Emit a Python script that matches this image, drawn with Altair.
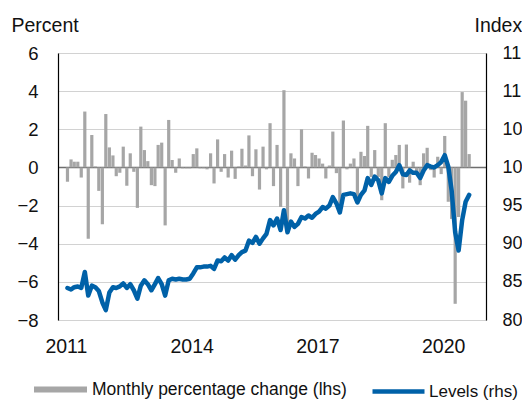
import altair as alt
import pandas as pd

# Monthly percentage change (lhs), Jan 2011 .. Aug 2020
monthly_change = [
    -0.75, 0.42, 0.30, 0.30, -0.53, 2.93, -3.74, 1.70, 0.05, -1.23, -2.98, 2.80,
    1.05, 0.63, -0.46, -0.28, 1.09, -0.96, 0.74, -0.23, -2.12, 2.14, 0.91, 0.33,
    -0.93, -0.98, 1.18, 1.30, -3.04, 2.49, 0.39, -0.28, 0.47, -0.05, -0.05, -0.05,
    0.70, 1.00, -0.05, -0.05, -0.10, 0.74, -0.84, 1.47, -0.23, 0.70, -0.53, 0.88,
    -0.60, 0.05, 0.98, 0.10, 1.68, -0.46, 0.95, -1.16, 1.09, -0.10, 2.32, -0.98,
    1.18, -2.07, 4.05, -3.30, 0.74, 0.47, -0.98, 2.00, 0.05, -0.58, 0.77, 0.65,
    0.47, 0.20, -0.58, 0.10, 1.88, -0.30, -2.07, 2.46, -0.10, 0.20, 0.47, -1.70,
    0.82, 0.60, 2.18, -0.50, 0.91, -0.50, -1.72, 2.32, -0.50, 0.40, 0.65, 1.18,
    -1.10, 1.20, -0.80, 0.30, -0.20, -0.93, 0.74, 1.03, -0.14, -0.53, 0.56, -0.35,
    1.65, -1.80, -2.70, -7.15, -2.60, 3.95, 3.50, 0.70,
]

# Levels (rhs), index
levels = [
    84.2, 84.0, 84.3, 84.4, 84.2, 86.3, 83.2, 84.5, 84.3, 83.8, 82.3, 81.3,
    83.6, 84.3, 84.2, 84.4, 84.8, 84.2, 84.7, 83.9, 82.8, 84.5, 85.2, 84.7,
    83.9, 84.7, 85.5, 84.7, 83.2, 85.2, 85.4, 85.3, 85.4, 85.3, 85.3, 85.4,
    86.1, 86.9, 86.9, 87.0, 87.0, 87.1, 86.7, 87.8, 87.7, 88.2, 87.8, 88.5,
    87.9, 88.5, 88.9, 89.1, 90.4, 90.1, 90.9, 90.0, 90.7, 91.3, 93.1, 92.4,
    93.3, 91.8, 94.4, 91.5, 92.9, 92.2, 92.6, 93.5, 93.3, 93.7, 93.4, 93.9,
    94.2, 94.8, 94.6, 95.0, 96.1, 95.3, 94.1, 96.4, 96.5, 96.6, 96.5, 95.4,
    96.4, 97.0, 98.6, 97.7, 98.8, 98.3, 96.6, 98.6, 98.1, 98.9, 99.4, 100.3,
    99.1, 99.0, 99.6, 99.3, 99.3, 98.6, 99.6, 100.3, 100.1, 100.0, 100.3, 100.7,
    101.6, 100.1, 97.0, 91.5, 89.1, 93.1, 95.5, 96.4,
]

dates = [f"{2011 + i // 12}-{i % 12 + 1:02d}-15" for i in range(len(levels))]
left_ticks = [-8, -6, -4, -2, 0, 2, 4, 6]
right_ticks = [80, 85, 90, 95, 100, 105, 110, 115]
year_ticks = [2011, 2014, 2017, 2020]

bar_name = "Monthly percentage change (lhs)"
line_name = "Levels (rhs)"

df = pd.DataFrame({
    "date": dates,
    "change": monthly_change,
    "level": levels,
    "s1": bar_name,
    "s2": line_name,
})

FONT = "Liberation Sans"
GRAY = "#a6a6a6"
BLUE = "#0061a8"
TXT = "#111111"

xscale = alt.Scale(
    type="utc",
    domain=[alt.DateTime(year=2010, month=12, date=7, utc=True),
            alt.DateTime(year=2020, month=11, date=26, utc=True)],
)
xaxis = alt.Axis(
    values=[alt.DateTime(year=y, month=1, date=1, utc=True) for y in year_ticks],
    format="%Y", domain=False, ticks=False, grid=False, labelFlush=False,
    labelOverlap=False, labelPadding=17, labelFontSize=19.5, labelFont=FONT,
    labelColor=TXT,
)

bars = alt.Chart(df).mark_bar(width=3.2).encode(
    x=alt.X("date:T", scale=xscale, axis=xaxis, title=None),
    y=alt.Y(
        "change:Q",
        stack=None,
        scale=alt.Scale(domain=[-8, 6], nice=False),
        axis=alt.Axis(
            values=left_ticks, title="Percent", titleAngle=0, titleX=-47, titleY=-22,
            titleAlign="left", titleBaseline="alphabetic", titleFont=FONT,
            titleFontSize=19.5, titleFontWeight="normal", titleColor=TXT,
            labelFont=FONT, labelFontSize=18.5, labelColor=TXT, labelPadding=20,
            labelOverlap=False, labelBound=False,
            ticks=False, domainColor="#000", domainWidth=1.2,
            grid=True,
            gridColor={"condition": {"test": "datum.value === 0", "value": "#6e6e6e"},
                       "value": "#d2d2d2"},
            gridWidth={"condition": {"test": "datum.value === 0", "value": 1.6},
                       "value": 1},
        ),
    ),
    y2=alt.datum(0),
    fill=alt.Fill(
        "s1:N",
        scale=alt.Scale(domain=[bar_name], range=[GRAY]),
        legend=alt.Legend(
            orient="none", legendX=-24, legendY=310, title=None, padding=0,
            symbolType="M-1,-0.11H1V0.11H-1Z", symbolSize=2809, symbolStrokeWidth=0,
            labelFont=FONT, labelFontSize=17.5, labelColor=TXT, labelOffset=5,
            labelLimit=500,
        ),
    ),
)

line = alt.Chart(df).mark_line(
    strokeWidth=4.5, strokeJoin="round", strokeCap="round"
).encode(
    x=alt.X("date:T", scale=xscale, axis=xaxis, title=None),
    y=alt.Y(
        "level:Q",
        scale=alt.Scale(domain=[80, 115], nice=False, zero=False),
        axis=alt.Axis(
            orient="right", values=right_ticks, title="Index", titleAngle=0,
            titleX=-12, titleY=-22, titleAlign="left", titleBaseline="alphabetic",
            titleFont=FONT, titleFontSize=19.5, titleFontWeight="normal",
            titleColor=TXT, labelFont=FONT, labelFontSize=18,
            labelColor=TXT, labelPadding=16, ticks=False,
            labelOverlap=False, labelBound=False,
            labelExpr="datum.value >= 100 ? substring(datum.label, 0, 2) : datum.label",
            domainColor="#000", domainWidth=1.2, grid=False,
        ),
    ),
    stroke=alt.Stroke(
        "s2:N",
        scale=alt.Scale(domain=[line_name], range=[BLUE]),
        legend=alt.Legend(
            orient="none", legendX=312, legendY=310, title=None, padding=0,
            symbolType="stroke", symbolSize=2704, symbolStrokeWidth=4.5,
            labelFont=FONT, labelFontSize=17, labelColor=TXT, labelOffset=2,
            labelLimit=500,
        ),
    ),
)

chart = alt.layer(bars, line).resolve_scale(
    y="independent", fill="independent", stroke="independent"
).properties(
    width=428, height=267,
    autosize=alt.AutoSizeParams(type="none"),
    padding={"left": 50, "top": 45, "right": 36, "bottom": 81},
).configure_view(stroke=None).configure(background="white")

chart.save("out.html", embed_options={"renderer": "svg", "actions": False})
